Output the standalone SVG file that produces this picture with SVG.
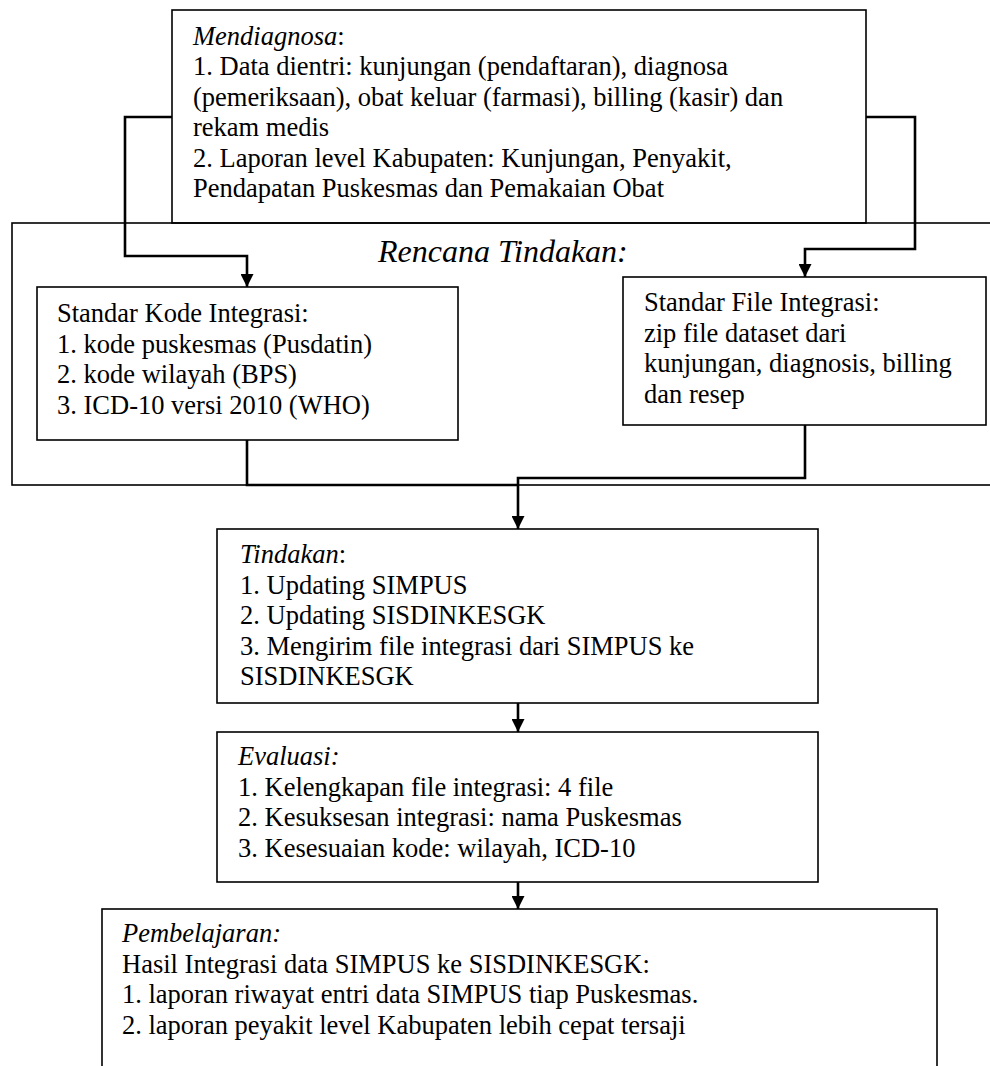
<svg xmlns="http://www.w3.org/2000/svg" width="990" height="1066" viewBox="0 0 990 1066">
  <style>
    .box { fill: none; stroke: #000; stroke-width: 1.6; }
    .t { font-family: "Liberation Serif", "Times New Roman", serif; font-size: 26.5px; fill: #000; }
    .i { font-style: italic; }
    .head { font-family: "Liberation Serif", "Times New Roman", serif; font-size: 32px; font-style: italic; fill: #000; }
    .link { fill: none; stroke: #000; stroke-width: 2.6; }
  </style>
  <defs>
    <marker id="arrow" viewBox="0 0 10 10" refX="10" refY="5" markerWidth="5" markerHeight="5" markerUnits="strokeWidth" orient="auto">
      <path d="M0,0 L10,5 L0,10 z" fill="#000"/>
    </marker>
  </defs>
  <rect width="990" height="1066" fill="#fff"/>

  <!-- planning frame, open on the right -->
  <g id="rencana">
    <rect class="box" x="12" y="223" width="995" height="262"/>
    <text class="head" x="378" y="262">Rencana Tindakan:</text>
  </g>

  <g id="mendiagnosa">
    <rect class="box" x="172" y="10" width="694" height="213" fill="#fff"/>
    <text class="t" x="193" y="45"><tspan class="i">Mendiagnosa</tspan>:</text>
    <text class="t" x="193" y="75.4">1. Data dientri: kunjungan (pendaftaran), diagnosa</text>
    <text class="t" x="193" y="105.8">(pemeriksaan), obat keluar (farmasi), billing (kasir) dan</text>
    <text class="t" x="193" y="136.2">rekam medis</text>
    <text class="t" x="193" y="166.6">2. Laporan level Kabupaten: Kunjungan, Penyakit,</text>
    <text class="t" x="193" y="197">Pendapatan Puskesmas dan Pemakaian Obat</text>
  </g>

  <g id="standar-kode">
    <rect class="box" x="37" y="287" width="421" height="153"/>
    <text class="t" x="57" y="322">Standar Kode Integrasi:</text>
    <text class="t" x="57" y="352.5">1. kode puskesmas (Pusdatin)</text>
    <text class="t" x="57" y="383">2. kode wilayah (BPS)</text>
    <text class="t" x="57" y="413.5">3. ICD-10 versi 2010 (WHO)</text>
  </g>

  <g id="standar-file">
    <rect class="box" x="623" y="277" width="363" height="148"/>
    <text class="t" x="644" y="311">Standar File Integrasi:</text>
    <text class="t" x="644" y="341.5">zip file dataset dari</text>
    <text class="t" x="644" y="372">kunjungan, diagnosis, billing</text>
    <text class="t" x="644" y="402.5">dan resep</text>
  </g>

  <g id="tindakan">
    <rect class="box" x="217" y="529" width="601" height="174"/>
    <text class="t" x="240" y="563.4"><tspan class="i">Tindakan</tspan>:</text>
    <text class="t" x="240" y="593.8">1. Updating SIMPUS</text>
    <text class="t" x="240" y="624.2">2. Updating SISDINKESGK</text>
    <text class="t" x="240" y="654.6">3. Mengirim file integrasi dari SIMPUS ke</text>
    <text class="t" x="240" y="685">SISDINKESGK</text>
  </g>

  <g id="evaluasi">
    <rect class="box" x="217" y="732" width="601" height="150"/>
    <text class="t i" x="238" y="765">Evaluasi:</text>
    <text class="t" x="238" y="795.5">1. Kelengkapan file integrasi: 4 file</text>
    <text class="t" x="238" y="826">2. Kesuksesan integrasi: nama Puskesmas</text>
    <text class="t" x="238" y="856.5">3. Kesesuaian kode: wilayah, ICD-10</text>
  </g>

  <g id="pembelajaran">
    <rect class="box" x="102" y="909" width="835" height="180"/>
    <text class="t i" x="122" y="942">Pembelajaran:</text>
    <text class="t" x="122" y="972.5">Hasil Integrasi data SIMPUS ke SISDINKESGK:</text>
    <text class="t" x="122" y="1003">1. laporan riwayat entri data SIMPUS tiap Puskesmas.</text>
    <text class="t" x="122" y="1033.5">2. laporan peyakit level Kabupaten lebih cepat tersaji</text>
  </g>

  <g id="connectors">
    <path class="link" d="M172,117 H125 V256 H247 V287" marker-end="url(#arrow)"/>
    <path class="link" d="M866,117 H915 V249 H805 V277" marker-end="url(#arrow)"/>
    <path class="link" d="M247,440 V485 H518"/>
    <path class="link" d="M805,425 V478 H518 V529" marker-end="url(#arrow)"/>
    <path class="link" d="M518,703 V732" marker-end="url(#arrow)"/>
    <path class="link" d="M518,882 V909" marker-end="url(#arrow)"/>
  </g>
</svg>
